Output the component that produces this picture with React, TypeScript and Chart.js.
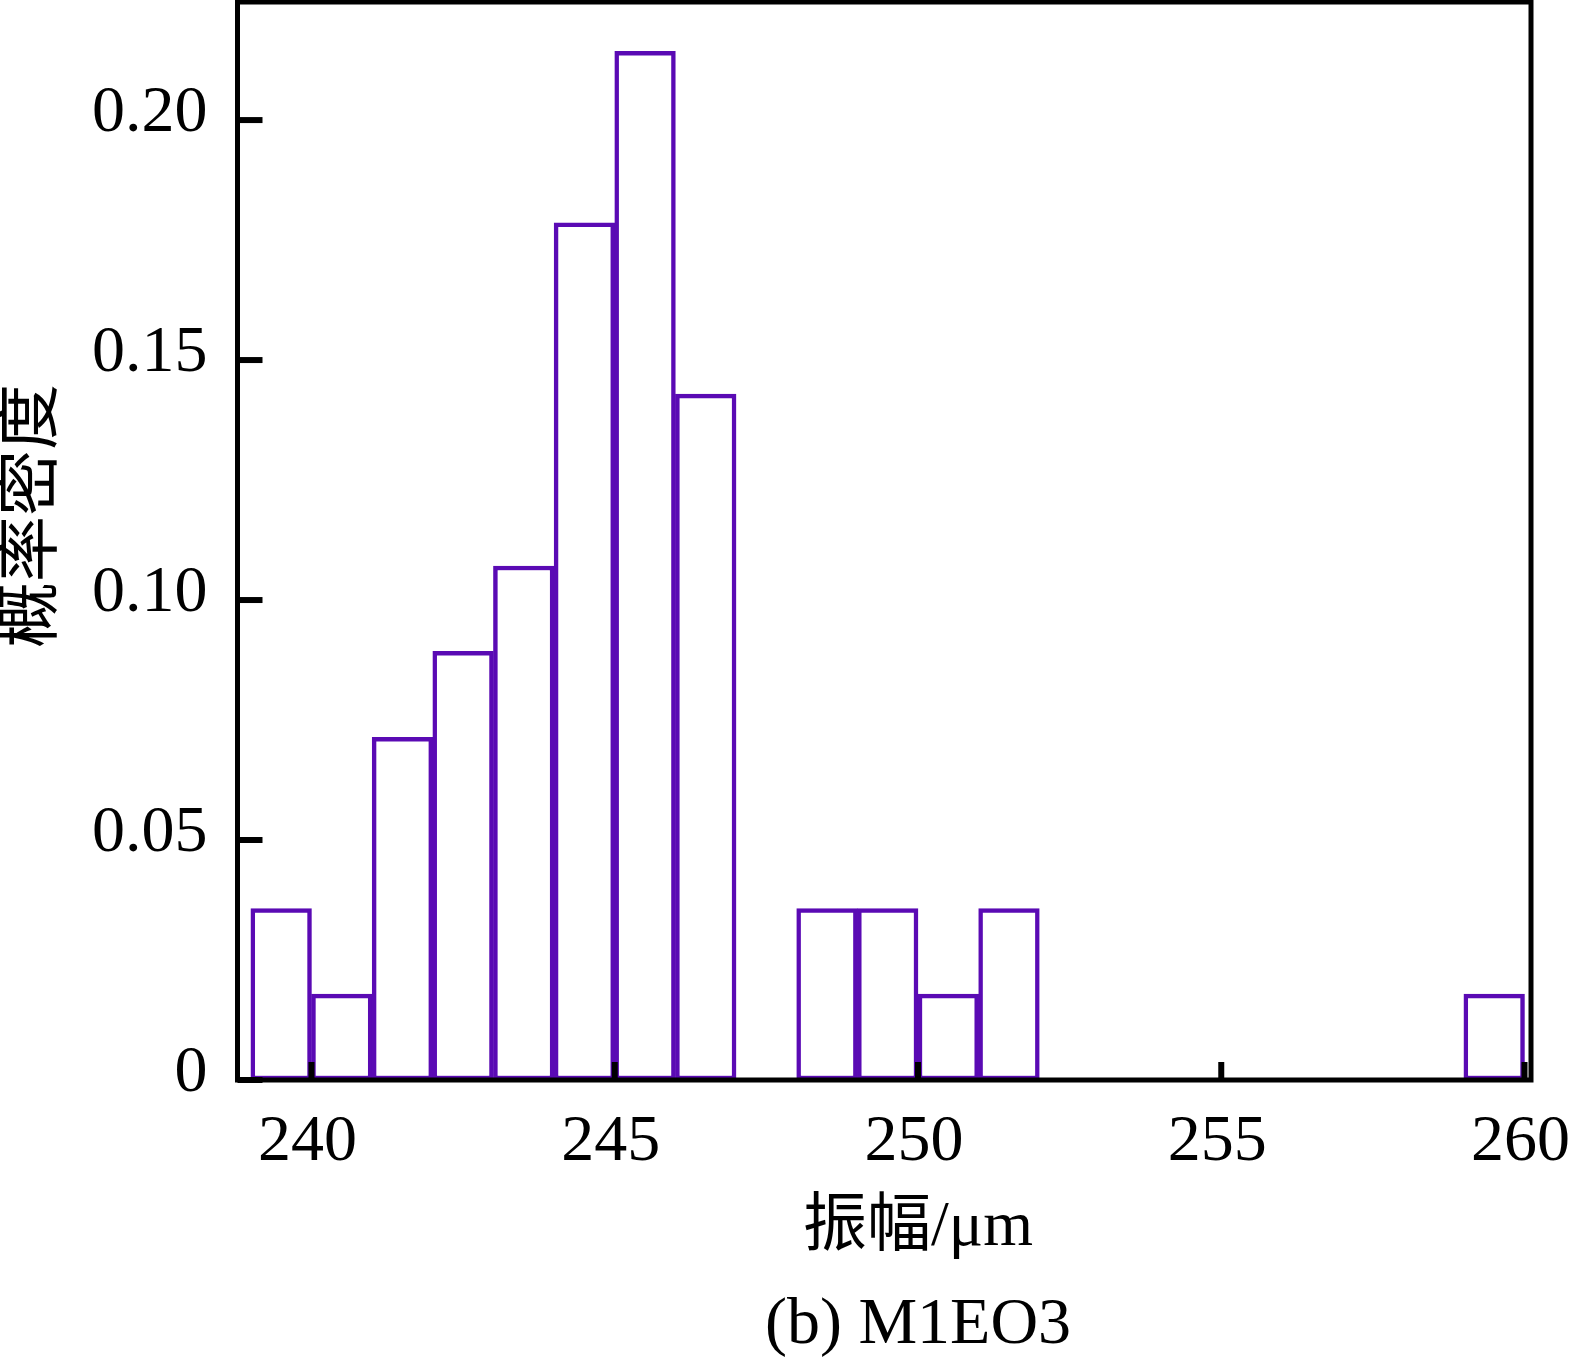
import React, { useEffect, useRef } from 'react';
import Chart from 'chart.js/auto';

// histogram bins (1 µm wide) and probability density
const binLeft = [239, 240, 241, 242, 243, 244, 245, 246, 247, 248, 249, 250, 251, 252, 253, 254, 255, 256, 257, 258, 259];
const density = [0.0357, 0.0179, 0.0714, 0.0893, 0.1071, 0.1786, 0.2143, 0.1429, 0, 0.0357, 0.0357, 0.0179, 0.0357, 0, 0, 0, 0, 0, 0, 0, 0.0179];

const xTicks = [240, 245, 250, 255, 260];
const yTicks = [0, 0.05, 0.1, 0.15, 0.2];
const yTickLabels = ['0', '0.05', '0.10', '0.15', '0.20'];

const xTitle = '振幅/μm';
const yTitle = '概率密度';
const caption = '(b) M1EO3';

const SERIF = "'Liberation Serif', 'Noto Sans CJK SC', serif";

const noPadding = (s: any) => {
  s.paddingLeft = 0;
  s.paddingRight = 0;
  s.paddingTop = 0;
  s.paddingBottom = 0;
};

const App: React.FC = () => {
  const canvasRef = useRef<HTMLCanvasElement>(null);
  const chartInstance = useRef<Chart | null>(null);

  useEffect(() => {
    document.body.style.margin = '0';
    if (!canvasRef.current) return;
    if (chartInstance.current) chartInstance.current.destroy();

    // box around the plot, inward ticks and the text labels
    const frame = {
      id: 'frame',
      afterDatasetsDraw(chart: any) {
        const { ctx, chartArea: a, scales } = chart;
        ctx.save();
        ctx.strokeStyle = '#000';
        ctx.lineWidth = 6;
        xTicks.forEach((v) => {
          const px = scales.x.getPixelForValue(v);
          ctx.beginPath();
          ctx.moveTo(px, a.bottom);
          ctx.lineTo(px, a.bottom - 18);
          ctx.stroke();
        });
        yTicks.forEach((v) => {
          const py = scales.y.getPixelForValue(v);
          ctx.beginPath();
          ctx.moveTo(a.left, py);
          ctx.lineTo(a.left + 25, py);
          ctx.stroke();
        });
        ctx.lineWidth = 5;
        ctx.strokeRect(a.left, a.top, a.right - a.left, a.bottom - a.top);
        ctx.restore();
      },
      afterDraw(chart: any) {
        const { ctx } = chart;
        ctx.save();
        ctx.fillStyle = '#000';
        ctx.textAlign = 'center';
        ctx.textBaseline = 'alphabetic';
        ctx.font = `64px ${SERIF}`;
        ctx.fillText(xTitle, 918, 1245);
        ctx.font = `66px ${SERIF}`;
        ctx.fillText(caption, 918, 1343);
        ctx.translate(34, 516);
        ctx.rotate(-Math.PI / 2);
        ctx.textBaseline = 'middle';
        ctx.font = `66px ${SERIF}`;
        ctx.fillText(yTitle, 0, 0);
        ctx.restore();
      },
    };

    chartInstance.current = new Chart(canvasRef.current, {
      type: 'bar',
      data: {
        datasets: [
          {
            data: binLeft.map((b, i) => ({ x: b + 0.5, y: density[i] })),
            backgroundColor: '#ffffff',
            borderColor: '#5a0ab4',
            borderWidth: 4.5,
            borderSkipped: false,
            barPercentage: 1,
            categoryPercentage: 1,
          },
        ],
      },
      options: {
        responsive: false,
        animation: false,
        layout: { padding: { top: 2, right: 39, left: 0, bottom: 0 } },
        plugins: { legend: { display: false }, tooltip: { enabled: false }, title: { display: false } },
        scales: {
          x: {
            type: 'linear',
            min: 238.78,
            max: 260.107,
            offset: false,
            afterBuildTicks: (s: any) => {
              s.ticks = xTicks.map((v) => ({ value: v }));
            },
            afterFit: (s: any) => {
              s.height = 277;
              noPadding(s);
            },
            grid: { display: false, drawTicks: false, offset: false },
            border: { display: false },
            ticks: {
              color: '#000',
              font: { family: SERIF, size: 66 },
              padding: 23,
              labelOffset: -4,
              maxRotation: 0,
              autoSkip: false,
            },
          },
          y: {
            type: 'linear',
            min: 0,
            max: 0.2246,
            afterBuildTicks: (s: any) => {
              s.ticks = yTicks.map((v) => ({ value: v }));
            },
            afterFit: (s: any) => {
              s.width = 237.5;
              noPadding(s);
            },
            grid: { display: false, drawTicks: false },
            border: { display: false },
            ticks: {
              color: '#000',
              font: { family: SERIF, size: 66 },
              padding: 30,
              labelOffset: -6,
              callback: (_v: any, i: number) => yTickLabels[i],
            },
          },
        },
      },
      plugins: [frame],
    });

    return () => {
      if (chartInstance.current) {
        chartInstance.current.destroy();
        chartInstance.current = null;
      }
    };
  }, []);

  return (
    <div style={{ width: 1570, height: 1357, background: '#fff' }}>
      <canvas ref={canvasRef} width={1570} height={1357} style={{ display: 'block' }} />
    </div>
  );
};

export default App;
